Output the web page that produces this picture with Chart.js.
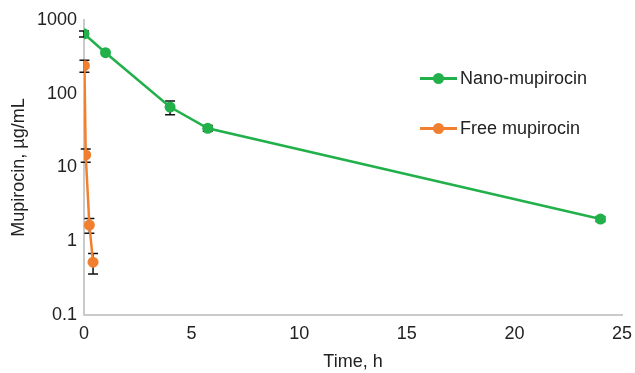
<!DOCTYPE html>
<html>
<head>
<meta charset="utf-8">
<script src="https://cdn.jsdelivr.net/npm/chart.js@4/dist/chart.umd.min.js"></script>
<style>
  body { margin: 0; background: #fff; }
  #wrap { position: relative; width: 635px; height: 373px; }
  #chart { position: absolute; left: 0; top: 0; }
  .legend { position: absolute; left: 420px; top: 0; font-family: "Liberation Sans", Arial, sans-serif; font-size: 18px; color: #222; }
  .legend .item { position: absolute; white-space: nowrap; height: 22px; line-height: 22px; }
  .legend .swatch { position: absolute; left: 0; top: 10px; width: 37px; height: 3px; }
  .legend .dot { position: absolute; left: 13px; top: 6px; width: 11px; height: 11px; border-radius: 50%; }
  .legend .label { position: absolute; left: 40px; top: 0; }
</style>
</head>
<body>
<div id="wrap">
  <canvas id="chart" width="635" height="373"></canvas>
  <div class="legend">
    <div class="item" style="top:67px"><span class="swatch" style="background:#22b04b"></span><span class="dot" style="background:#22b04b"></span><span class="label">Nano-mupirocin</span></div>
    <div class="item" style="top:117px"><span class="swatch" style="background:#f08030"></span><span class="dot" style="background:#f08030"></span><span class="label">Free mupirocin</span></div>
  </div>
</div>
<script>
// datos
const nanoTime = [0, 1, 4, 5.75, 24];
const nanoConc = [650, 360, 66, 34, 2.0];
const nanoErr = [60, 0, 14, 3, 0.15];

const freeTime = [0.02, 0.08, 0.25, 0.42];
const freeConc = [240, 14.8, 1.66, 0.52];
const freeErr = [45, 3, 0.38, 0.16];

const xTicks = [0, 5, 10, 15, 20, 25];
const yTicks = [0.1, 1, 10, 100, 1000];

const font = { family: '"Liberation Sans", Arial, sans-serif', size: 18 };

function toPoints(xs, ys) {
    return xs.map((x, i) => ({ x: x, y: ys[i] }));
}

// Barras de error dibujadas con las escalas del grafico
const errorBars = {
    id: 'errorBars',
    beforeDatasetsDraw(chart) {
        const ctx = chart.ctx;
        const xs = chart.scales.x;
        const ys = chart.scales.y;
        const errs = [nanoErr, freeErr];
        ctx.save();
        ctx.strokeStyle = '#111';
        ctx.lineWidth = 1.5;
        chart.data.datasets.forEach((ds, d) => {
            ds.data.forEach((p, i) => {
                const e = errs[d][i];
                if (!e) return;
                const px = xs.getPixelForValue(p.x);
                const top = ys.getPixelForValue(p.y + e);
                const bot = ys.getPixelForValue(p.y - e);
                ctx.beginPath();
                ctx.moveTo(px, top); ctx.lineTo(px, bot);
                ctx.moveTo(px - 5, top); ctx.lineTo(px + 5, top);
                ctx.moveTo(px - 5, bot); ctx.lineTo(px + 5, bot);
                ctx.stroke();
            });
        });
        ctx.restore();
    }
};

new Chart(document.getElementById('chart'), {
    type: 'line',
    data: {
        datasets: [{
            label: 'Nano-mupirocin',
            data: toPoints(nanoTime, nanoConc),
            borderColor: '#22b04b',
            backgroundColor: '#22b04b',
            borderWidth: 2.5,
            pointRadius: 5.5,
            pointBorderWidth: 0,
            pointHoverRadius: 5.5,
            tension: 0
        }, {
            label: 'Free mupirocin',
            data: toPoints(freeTime, freeConc),
            borderColor: '#f08030',
            backgroundColor: '#f08030',
            borderWidth: 2.5,
            pointRadius: 5.5,
            pointBorderWidth: 0,
            pointHoverRadius: 5.5,
            tension: 0
        }]
    },
    options: {
        responsive: false,
        animation: false,
        layout: { padding: { top: 20, right: 13, left: 0, bottom: 0 } },
        plugins: {
            legend: { display: false },
            tooltip: { enabled: false }
        },
        scales: {
            x: {
                type: 'linear',
                min: 0,
                max: 25,
                afterBuildTicks: s => { s.ticks = xTicks.map(v => ({ value: v })); },
                afterFit: s => { s.height = 58; s.paddingRight = 0; },
                grid: { display: false, drawTicks: false },
                border: { display: true, color: '#cacaca', width: 2 },
                ticks: { color: '#222', font: font, padding: 8, maxRotation: 0 },
                title: { display: true, text: 'Time, h', color: '#222', font: font, padding: { top: 7, bottom: 0 } }
            },
            y: {
                type: 'logarithmic',
                min: 0.1,
                max: 1000,
                afterBuildTicks: s => { s.ticks = yTicks.map(v => ({ value: v })); },
                afterFit: s => { s.width = 84; },
                grid: { display: false, drawTicks: false },
                border: { display: true, color: '#cacaca', width: 2 },
                ticks: { color: '#222', font: font, padding: 7, callback: v => String(v) },
                title: { display: true, text: 'Mupirocin, µg/mL', color: '#222', font: font, padding: { top: 8, bottom: 0 } }
            }
        }
    },
    plugins: [errorBars]
});
</script>
</body>
</html>
